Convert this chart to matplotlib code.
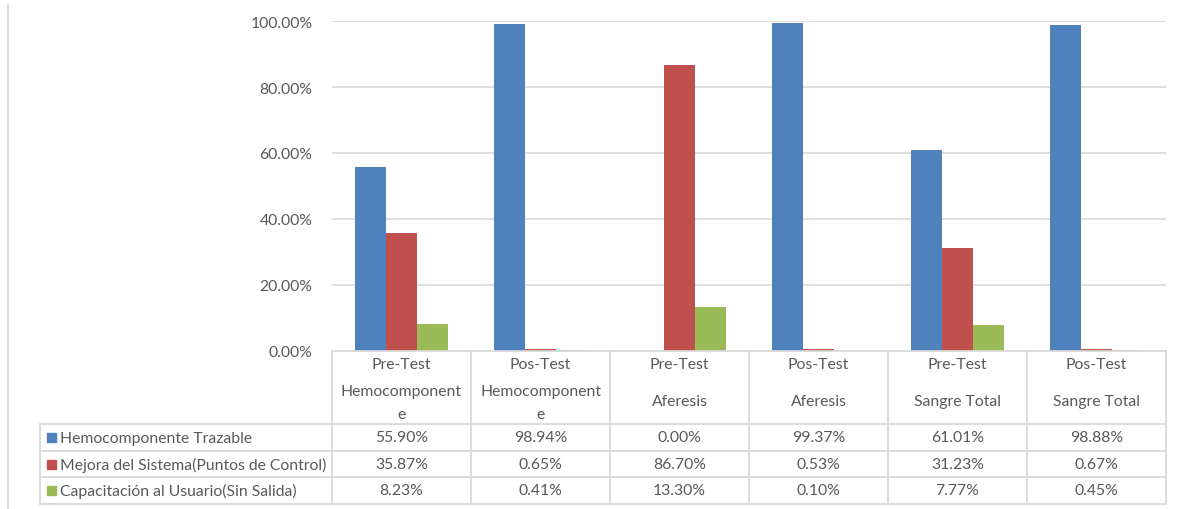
import matplotlib
matplotlib.use("Agg")
import matplotlib.pyplot as plt
from matplotlib.lines import Line2D
from matplotlib.patches import Rectangle
import numpy as np

plt.rcParams['font.family'] = ['Lato', 'DejaVu Sans']

# Data
cat_line1 = ["Pre-Test", "Pos-Test", "Pre-Test", "Pos-Test", "Pre-Test", "Pos-Test"]
cat_line2 = ["Hemocomponent\ne", "Hemocomponent\ne", "Aferesis", "Aferesis", "Sangre Total", "Sangre Total"]
series_names = ["Hemocomponente Trazable",
                "Mejora del Sistema(Puntos de Control)",
                "Capacitación al Usuario(Sin Salida)"]
trazable = [55.90, 98.94, 0.00, 99.37, 61.01, 98.88]
mejora = [35.87, 0.65, 86.70, 0.53, 31.23, 0.67]
capacitacion = [8.23, 0.41, 13.30, 0.10, 7.77, 0.45]
colors = ["#4F81BD", "#C0504D", "#9BBB59"]
yticks = [0, 20, 40, 60, 80, 100]

W, H = 1183, 510
fig = plt.figure(figsize=(W / 100, H / 100), dpi=100)

def fx(x):
    return x / W

def fy(y):
    return 1 - y / H

TXT = "#595959"
GRID = "#D9D9D9"
FS = 11.3

# plot region in pixels
L, R, T, B = 332, 1166, 22, 352
ax = fig.add_axes([fx(L), fy(B), fx(R) - fx(L), fy(T) - fy(B)])
series = [trazable, mejora, capacitacion]
n = len(cat_line1)
x = np.arange(n)
bw = 0.223
for i, (vals, c) in enumerate(zip(series, colors)):
    ax.bar(x + (i - 1) * bw, np.array(vals) / 100, width=bw, color=c, zorder=3)
ax.set_xlim(-0.5, n - 0.5)
ax.set_ylim(0, 1)
ax.set_yticks([v / 100 for v in yticks])
ax.set_yticklabels([f"{v:.2f}%" for v in yticks], fontsize=FS, color=TXT)
ax.tick_params(axis='y', length=0, pad=14)
ax.set_xticks([])
for s in ax.spines.values():
    s.set_visible(False)
for v in yticks[1:]:
    ax.axhline(v / 100, color=GRID, lw=1.2, zorder=1)
ax.patch.set_alpha(0)

# data table below the plot
col_edges = np.linspace(L, R, n + 1)
row_y = [352, 425, 452, 478, 505]
tl = 40

def hline(y, x0, x1):
    fig.add_artist(Line2D([fx(x0), fx(x1)], [fy(y), fy(y)], color=GRID, lw=1.3,
                          transform=fig.transFigure))

def vline(x, y0, y1):
    fig.add_artist(Line2D([fx(x), fx(x)], [fy(y0), fy(y1)], color=GRID, lw=1.3,
                          transform=fig.transFigure))

hline(row_y[0], L, R)
for y in row_y[1:]:
    hline(y, tl, R)
for xe in col_edges:
    vline(xe, row_y[0], row_y[-1])
vline(tl, row_y[1], row_y[-1])

# outer frame edge on the left
vline(8, 6, 510)

# category headers
for j in range(n):
    cx = (col_edges[j] + col_edges[j + 1]) / 2
    fig.text(fx(cx), fy(365), cat_line1[j], ha='center', va='center', fontsize=FS, color=TXT)
    parts = cat_line2[j].split("\n")
    if len(parts) == 2:
        fig.text(fx(cx), fy(392), parts[0], ha='center', va='center', fontsize=FS, color=TXT)
        fig.text(fx(cx), fy(415), parts[1], ha='center', va='center', fontsize=FS, color=TXT)
    else:
        fig.text(fx(cx), fy(402), parts[0], ha='center', va='center', fontsize=FS, color=TXT)

# value rows with legend keys
for i, (name, vals, c) in enumerate(zip(series_names, series, colors)):
    yc = (row_y[i + 1] + row_y[i + 2]) / 2
    fig.add_artist(Rectangle((fx(47), fy(yc + 4.5)), fx(9), 9 / H, color=c,
                             transform=fig.transFigure))
    fig.text(fx(60), fy(yc), name, ha='left', va='center', fontsize=FS, color=TXT)
    for j, v in enumerate(vals):
        cx = (col_edges[j] + col_edges[j + 1]) / 2
        fig.text(fx(cx), fy(yc), f"{v:.2f}%", ha='center', va='center', fontsize=FS, color=TXT)

fig.savefig("out.png", dpi=100, facecolor="white")
